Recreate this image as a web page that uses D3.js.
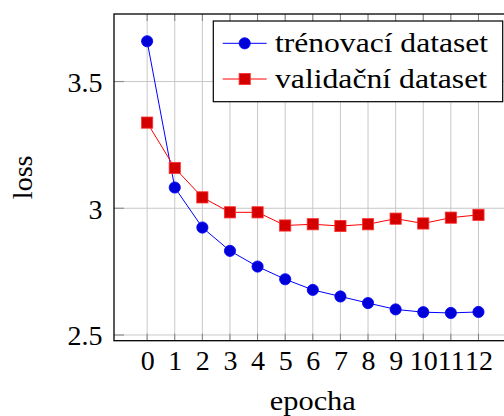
<!DOCTYPE html>
<html>
<head>
<meta charset="utf-8">
<script src="https://cdn.jsdelivr.net/npm/d3@7"></script>
<style>
html,body{margin:0;padding:0;background:#fff;}
svg{display:block;}
</style>
</head>
<body>
<svg id="chart" width="504" height="416"></svg>
<script>
const epochs = [0,1,2,3,4,5,6,7,8,9,10,11,12];
const trainLoss = [3.659,3.082,2.924,2.832,2.770,2.720,2.678,2.652,2.626,2.601,2.590,2.587,2.591];
const valLoss = [3.338,3.159,3.043,2.984,2.984,2.932,2.937,2.930,2.937,2.959,2.940,2.963,2.974];
const yTicks = [2.5,3,3.5];
const yTickLabels = ["2.5","3","3.5"];
const seriesNames = ["trénovací dataset","validační dataset"];
const xLabel = "epocha";
const yLabel = "loss";

const FONT = "Liberation Serif";
const svg = d3.select("#chart");
const L = 114, R = 511.6, T = 14, B = 340.7;
const x = d3.scaleLinear().domain([-1.2, 13.2]).range([L, R]);
const y = d3.scaleLinear().domain([2.4775, 3.7665]).range([B, T]);
const FS = 28;

// grid
const g = svg.append("g");
g.selectAll("line.vg").data(epochs).enter().append("line")
  .attr("x1", d => x(d)).attr("x2", d => x(d)).attr("y1", T).attr("y2", B)
  .attr("stroke", "#c8c8c8").attr("stroke-width", 1);
g.selectAll("line.hg").data(yTicks).enter().append("line")
  .attr("x1", L).attr("x2", R).attr("y1", d => y(d)).attr("y2", d => y(d))
  .attr("stroke", "#c8c8c8").attr("stroke-width", 1);

// ticks (inside)
g.selectAll("line.tt").data(epochs).enter().append("line")
  .attr("x1", d => x(d)).attr("x2", d => x(d)).attr("y1", T).attr("y2", T + 7)
  .attr("stroke", "#808080").attr("stroke-width", 1);
g.selectAll("line.bt").data(epochs).enter().append("line")
  .attr("x1", d => x(d)).attr("x2", d => x(d)).attr("y1", B).attr("y2", B - 7)
  .attr("stroke", "#808080").attr("stroke-width", 1);
g.selectAll("line.lt").data(yTicks).enter().append("line")
  .attr("x1", L).attr("x2", L + 10).attr("y1", d => y(d)).attr("y2", d => y(d))
  .attr("stroke", "#909090").attr("stroke-width", 1.2);

// frame
svg.append("rect").attr("x", L).attr("y", T).attr("width", R - L).attr("height", B - T)
  .attr("fill", "none").attr("stroke", "#000").attr("stroke-width", 1.3);

// axes labels via d3 axes
const xAxis = svg.append("g").attr("transform", `translate(0,${B})`)
  .call(d3.axisBottom(x).tickValues(epochs).tickFormat(d3.format("d")).tickSize(0).tickPadding(0))
  .attr("font-family", FONT).attr("font-size", FS);
xAxis.select(".domain").remove();
xAxis.selectAll("text").style("font-family", FONT).style("font-size", FS + "px")
  .attr("dy", null).attr("y", 29.8).attr("fill", "#000");

const yAxis = svg.append("g").attr("transform", `translate(${L},0)`)
  .call(d3.axisLeft(y).tickValues(yTicks).tickFormat((d, i) => yTickLabels[i]).tickSize(0).tickPadding(0))
  .attr("font-family", FONT).attr("font-size", FS);
yAxis.select(".domain").remove();
yAxis.selectAll("text").style("font-family", FONT).style("font-size", FS + "px")
  .attr("dy", null).attr("y", 10).attr("x", -11.5).attr("fill", "#000");

// lines
const line = d3.line().x((d, i) => x(epochs[i])).y(d => y(d));
svg.append("path").datum(trainLoss).attr("d", line).attr("fill", "none")
  .attr("stroke", "#0000ff").attr("stroke-width", 1);
svg.append("path").datum(valLoss).attr("d", line).attr("fill", "none")
  .attr("stroke", "#ff0000").attr("stroke-width", 1);

// markers
svg.selectAll("circle.tr").data(trainLoss).enter().append("circle")
  .attr("cx", (d, i) => x(epochs[i])).attr("cy", d => y(d)).attr("r", 5.6)
  .attr("fill", "#0000d8").attr("stroke", "#0000ff").attr("stroke-width", 0.8);
const sq = 11.2;
svg.selectAll("rect.va").data(valLoss).enter().append("rect")
  .attr("x", (d, i) => x(epochs[i]) - sq / 2).attr("y", d => y(d) - sq / 2)
  .attr("width", sq).attr("height", sq)
  .attr("fill", "#d40000").attr("stroke", "#ff3030").attr("stroke-width", 0.8);

// legend
const lg = svg.append("g");
lg.append("rect").attr("x", 213.3).attr("y", 21).attr("width", 289.4).attr("height", 80.7)
  .attr("fill", "#fff").attr("stroke", "#000").attr("stroke-width", 1.2);
const rows = [43.3, 79];
const colors = [["#0000ff", "#0000d8"], ["#ff0000", "#d40000"]];
rows.forEach((ry, i) => {
  lg.append("line").attr("x1", 222.7).attr("x2", 266.7).attr("y1", ry).attr("y2", ry)
    .attr("stroke", colors[i][0]).attr("stroke-width", 1);
  if (i === 0) {
    lg.append("circle").attr("cx", 244.7).attr("cy", ry).attr("r", 5.6)
      .attr("fill", colors[i][1]).attr("stroke", colors[i][0]).attr("stroke-width", 0.8);
  } else {
    lg.append("rect").attr("x", 244.7 - sq / 2).attr("y", ry - sq / 2).attr("width", sq).attr("height", sq)
      .attr("fill", colors[i][1]).attr("stroke", "#ff3030").attr("stroke-width", 0.8);
  }
  lg.append("text").attr("x", 275).attr("y", ry + 8.5)
    .attr("font-family", FONT).attr("font-size", FS)
    .attr("textLength", i === 0 ? 213 : 212).attr("lengthAdjust", "spacingAndGlyphs")
    .text(seriesNames[i]);
});

// axis titles
svg.append("text").attr("x", (L + R) / 2).attr("y", 410).attr("text-anchor", "middle")
  .attr("font-family", FONT).attr("font-size", FS)
  .attr("textLength", 86).attr("lengthAdjust", "spacingAndGlyphs").text(xLabel);
svg.append("text").attr("transform", `translate(32,${(T + B) / 2}) rotate(-90)`)
  .attr("text-anchor", "middle").attr("font-family", FONT).attr("font-size", FS).text(yLabel);
</script>
</body>
</html>
